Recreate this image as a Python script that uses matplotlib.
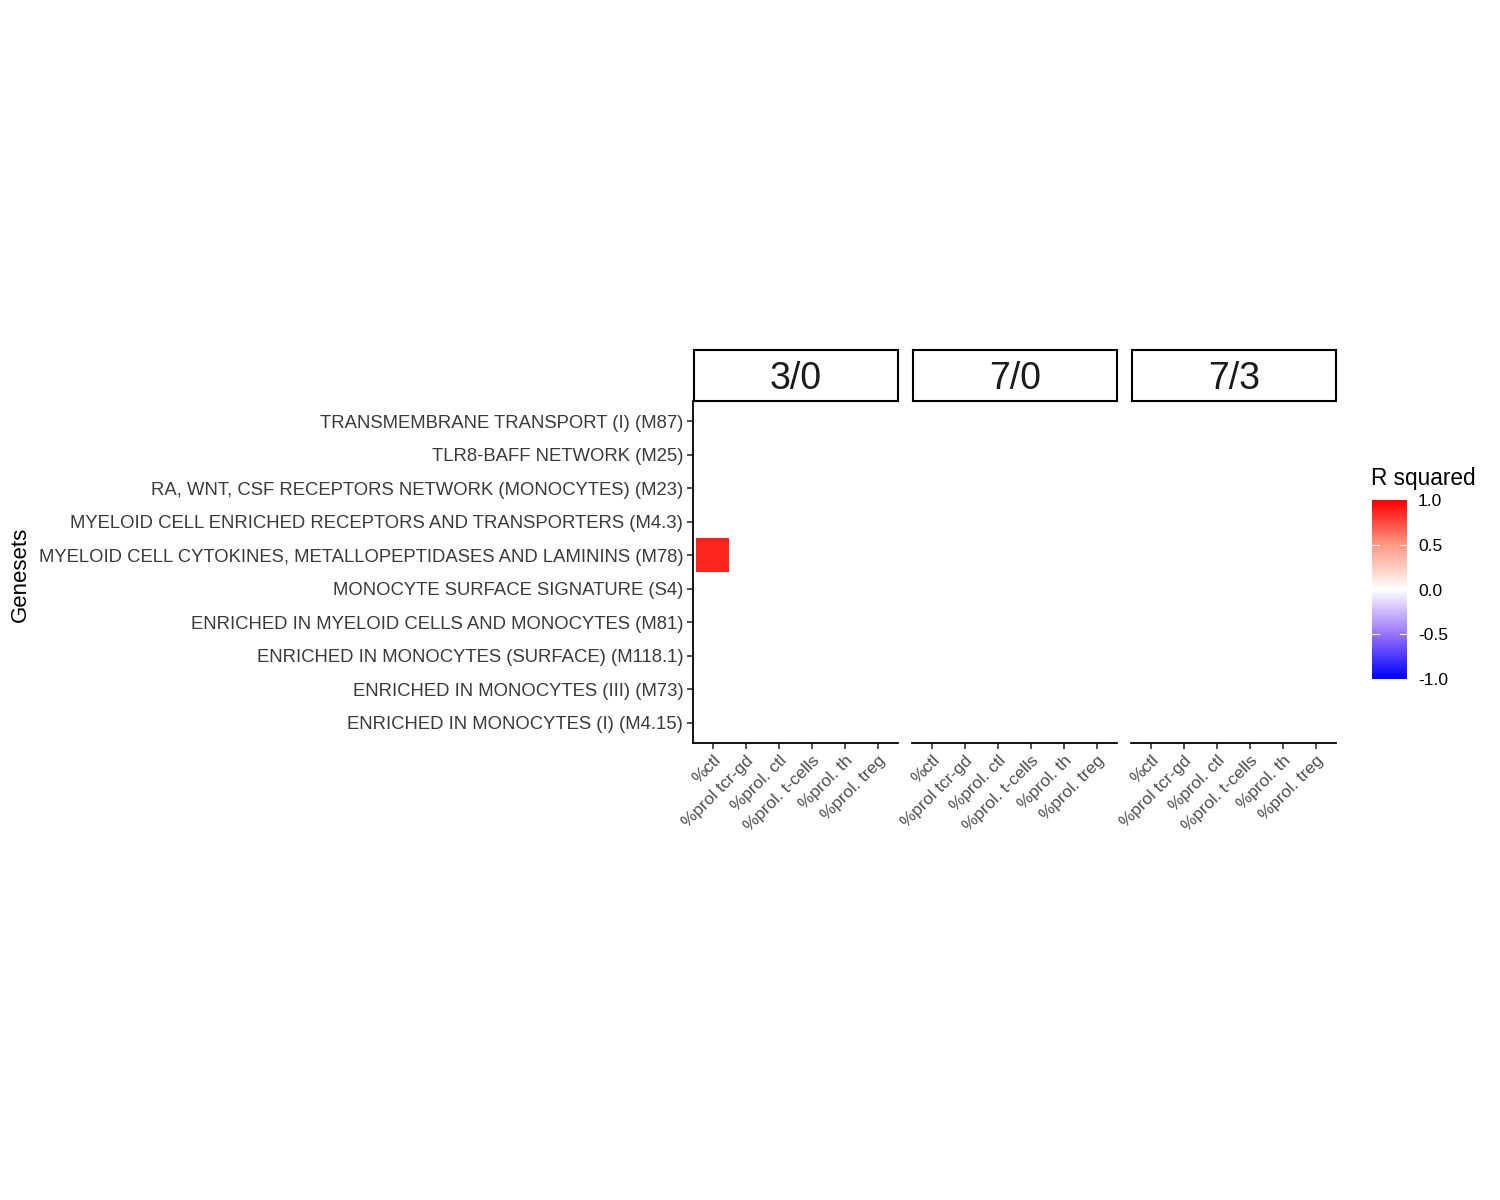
import numpy as np
import matplotlib
matplotlib.use("Agg")
import matplotlib.pyplot as plt
from matplotlib.colors import LinearSegmentedColormap, Normalize
from matplotlib.patches import Rectangle

plt.rcParams['font.family'] = ['Liberation Sans', 'DejaVu Sans']

genesets = [
    "ENRICHED IN MONOCYTES (I) (M4.15)",
    "ENRICHED IN MONOCYTES (III) (M73)",
    "ENRICHED IN MONOCYTES (SURFACE) (M118.1)",
    "ENRICHED IN MYELOID CELLS AND MONOCYTES (M81)",
    "MONOCYTE SURFACE SIGNATURE (S4)",
    "MYELOID CELL CYTOKINES, METALLOPEPTIDASES AND LAMININS (M78)",
    "MYELOID CELL ENRICHED RECEPTORS AND TRANSPORTERS (M4.3)",
    "RA, WNT, CSF RECEPTORS NETWORK (MONOCYTES) (M23)",
    "TLR8-BAFF NETWORK (M25)",
    "TRANSMEMBRANE TRANSPORT (I) (M87)",
]
cell_types = ["%ctl", "%prol tcr-gd", "%prol. ctl", "%prol. t-cells", "%prol. th", "%prol. treg"]
comparisons = ["3/0", "7/0", "7/3"]
# only non-missing tile: (comparison, cell type, geneset, R squared)
tile_comparison = ["3/0"]
tile_cell = ["%ctl"]
tile_geneset = ["MYELOID CELL CYTOKINES, METALLOPEPTIDASES AND LAMININS (M78)"]
tile_value = [0.88]
colorbar_ticks = [-1.0, -0.5, 0.0, 0.5, 1.0]

cmap = LinearSegmentedColormap.from_list(
    "rsq", [(0.0, "#0000FF"), (0.25, "#9A74FF"), (0.5, "#FFFFFF"),
            (0.75, "#FF9B86"), (1.0, "#FF0000")])
norm = Normalize(-1, 1)

W, H = 1500, 1200
fig = plt.figure(figsize=(15, 12), dpi=100)

panel_lefts = [693, 912, 1131]
pw = 205
top, bottom = 401, 743

for k, comp in enumerate(comparisons):
    x0 = panel_lefts[k]
    ax = fig.add_axes([x0 / W, 1 - bottom / H, pw / W, (bottom - top) / H])
    ax.set_xlim(-0.6, len(cell_types) - 1 + 0.6)
    ax.set_ylim(-0.6, len(genesets) - 1 + 0.6)
    for c, cl, g, v in zip(tile_comparison, tile_cell, tile_geneset, tile_value):
        if c == comp:
            xi = cell_types.index(cl)
            yi = genesets.index(g)
            ax.add_patch(Rectangle((xi - 0.5, yi - 0.5), 1, 1,
                                   facecolor=cmap(norm(v)), edgecolor='none'))
    ax.set_xticks(range(len(cell_types)))
    ax.set_xticklabels(cell_types, rotation=45, ha='right', va='top',
                       rotation_mode='anchor', fontsize=12.5, color='#4D4D4D')
    for s in ['top', 'right']:
        ax.spines[s].set_visible(False)
    ax.spines['bottom'].set_linewidth(1.3)
    ax.tick_params(axis='x', length=4, width=1.2, color='#333333', pad=3)
    if k == 0:
        ax.set_yticks(range(len(genesets)))
        ax.set_yticklabels(genesets, fontsize=13.3, color='#3A3A3A', va='center_baseline')
        ax.spines['left'].set_linewidth(1.3)
        ax.tick_params(axis='y', length=4, width=1.2, color='#333333', pad=3)
    else:
        ax.spines['left'].set_visible(False)
        ax.set_yticks([])
    # strip
    sax = fig.add_axes([(x0 + 1) / W, 1 - top / H, (pw - 1) / W, 51 / H])
    sax.set_xticks([]); sax.set_yticks([])
    for s in sax.spines.values():
        s.set_linewidth(1.5)
    sax.text(0.5, 0.43, comp, ha='center', va='center', fontsize=27,
             color='#1A1A1A', transform=sax.transAxes)

fig.text(20 / W, 1 - 574 / H, "Genesets", fontsize=16, rotation=90,
         ha='center', va='center')

# colorbar
cax = fig.add_axes([1372 / W, 1 - 679 / H, 35 / W, 179 / H])
grad = np.linspace(-1, 1, 300).reshape(-1, 1)
cax.imshow(grad, aspect='auto', cmap=cmap, norm=norm, origin='lower',
           extent=[0, 1, -1, 1])
cax.set_xlim(0, 1); cax.set_ylim(-1, 1)
for s in cax.spines.values():
    s.set_visible(False)
cax.set_xticks([])
cax.yaxis.tick_right()
cax.set_yticks(colorbar_ticks)
cax.set_yticklabels([f"{t:.1f}" for t in colorbar_ticks], fontsize=12.5)
cax.tick_params(axis='y', length=0, pad=8)
for t in colorbar_ticks[1:-1]:
    cax.plot([0, 0.2], [t, t], color='white', lw=0.8)
    cax.plot([0.8, 1], [t, t], color='white', lw=0.8)
fig.text(1371 / W, 1 - 478 / H, "R squared", fontsize=16.3, ha='left', va='center')

fig.savefig("out.png", dpi=100)
